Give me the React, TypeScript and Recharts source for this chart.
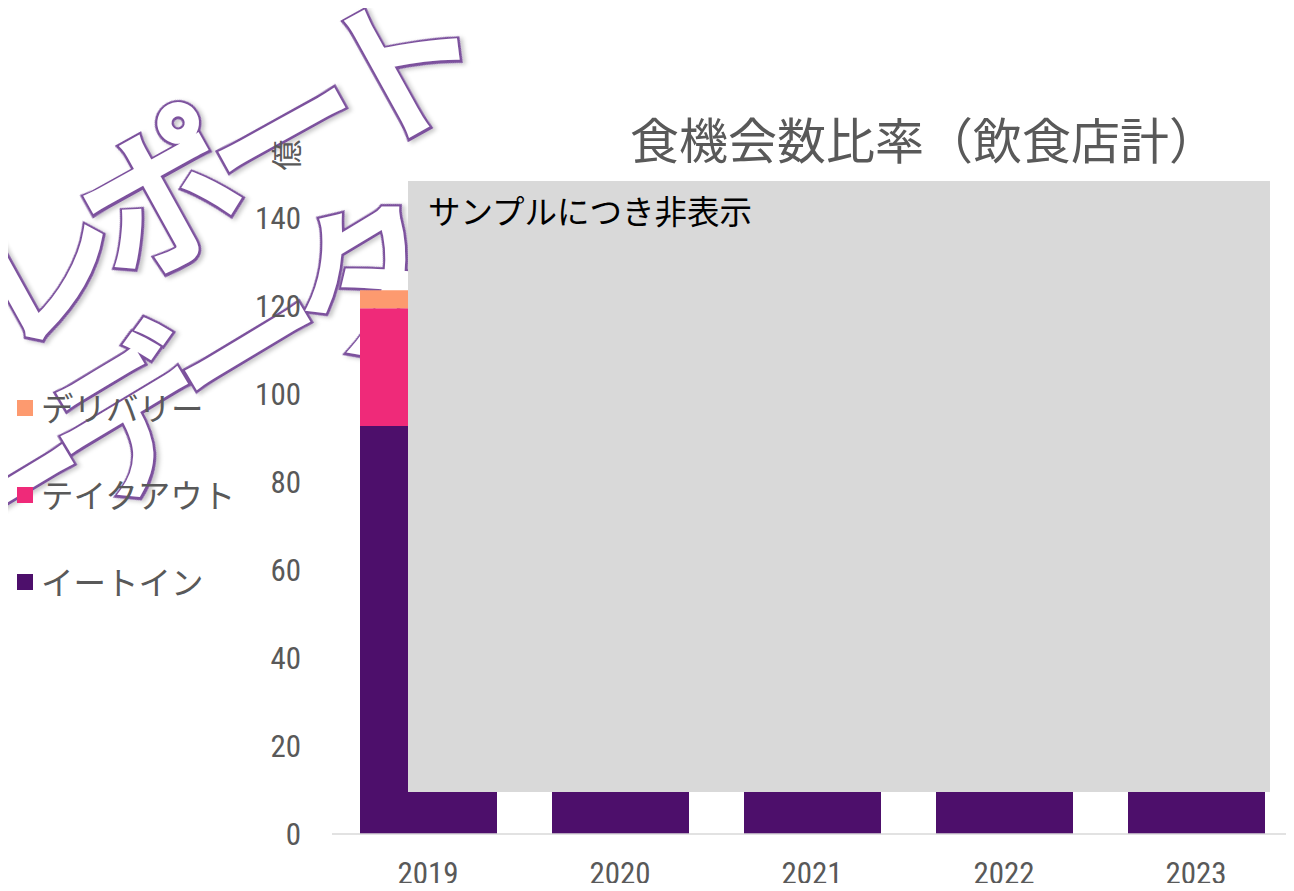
import React from 'react';
import { BarChart, Bar, XAxis, YAxis, Legend } from 'recharts';

const years = ['2019', '2020', '2021', '2022', '2023'];
const eatIn = [92.7, 63, 56, 70, 78];
const takeOut = [26.8, 30, 31, 29, 28];
const delivery = [4.1, 8, 10, 9, 8];
const yTicks = [0, 20, 40, 60, 80, 100, 120, 140];
const seriesNames = ['イートイン', 'テイクアウト', 'デリバリー'];
const seriesColors = ['#4D0F6B', '#EF2A79', '#FD9A6F'];
const titleText = '食機会数比率（飲食店計）';
const unitText = '億';
const hiddenText = 'サンプルにつき非表示';
const watermarkLines = ['レポート', 'ーデータ'];

const data = years.map((y, i) => ({
  year: y,
  eatIn: eatIn[i],
  takeOut: takeOut[i],
  delivery: delivery[i],
}));

const CJK = "'Noto Sans CJK JP', 'Noto Sans', sans-serif";
const NUM = "'Liberation Sans Narrow', 'Roboto Condensed', Roboto, sans-serif";
const GREY = '#595959';

const LegendContent = (props: any) => {
  const items = [...(props.payload || [])].reverse();
  return (
    <div style={{ fontFamily: CJK }}>
      {items.map((it: any) => (
        <div key={it.value} style={{ height: 87, display: 'flex', alignItems: 'center' }}>
          <div style={{ width: 16, height: 16, background: it.color, marginLeft: 17, marginRight: 8 }} />
          <span style={{ fontSize: 32.5, color: GREY, lineHeight: 1 }}>{it.value}</span>
        </div>
      ))}
    </div>
  );
};

const wmBase = {
  textAnchor: 'middle' as const,
  dominantBaseline: 'central' as const,
  fontFamily: CJK,
  fontSize: 158,
  letterSpacing: -20,
  strokeLinejoin: 'miter' as const,
};

const WatermarkLine = ({ x, y, angle, text }: { x: number; y: number; angle: number; text: string }) => (
  <g transform={`translate(${x},${y}) rotate(${angle})`}>
    <text {...wmBase} fill="#7B519D" stroke="#7B519D" strokeWidth={12} filter="url(#wmShadow)">
      {text}
    </text>
    <text {...wmBase} fill="#fff" stroke="#fff" strokeWidth={7}>
      {text}
    </text>
  </g>
);

export default function App() {
  return (
    <div style={{ position: 'relative', width: 1294, height: 891, margin: -8, background: '#fff', overflow: 'hidden' }}>
      {/* watermark */}
      <svg width={1294} height={891} style={{ position: 'absolute', left: 0, top: 0, zIndex: 0 }}>
        <defs>
          <filter id="wmShadow" x="-20%" y="-20%" width="140%" height="140%">
            <feDropShadow dx="2" dy="3" stdDeviation="2" floodColor="#000" floodOpacity="0.22" />
          </filter>
        </defs>
        <WatermarkLine x={209} y={161} angle={-29} text={watermarkLines[0]} />
        <WatermarkLine x={176} y={380} angle={-31} text={watermarkLines[1]} />
      </svg>

      <div style={{ position: 'absolute', left: 0, top: 0, zIndex: 1 }}>
        <BarChart
          width={1294}
          height={891}
          data={data}
          margin={{ top: 218, right: 2, bottom: 7, left: 272 }}
          barSize={137}
        >
          <XAxis
            dataKey="year"
            height={50}
            tickLine={false}
            tickSize={0}
            tickMargin={28}
            axisLine={{ stroke: '#D9D9D9', strokeWidth: 1.5 }}
            tick={{ fill: GREY, fontSize: 31, fontFamily: NUM }}
            interval={0}
          />
          <YAxis
            width={60}
            domain={[0, 140]}
            ticks={yTicks}
            axisLine={false}
            tickLine={false}
            tickSize={0}
            tickMargin={31}
            tick={{ fill: GREY, fontSize: 31, fontFamily: NUM }}
            interval={0}
          />
          <Legend
            layout="vertical"
            align="center"
            verticalAlign="middle"
            content={<LegendContent />}
            wrapperStyle={{ left: 0, top: 364, width: 260, height: 261 }}
          />
          <Bar dataKey="eatIn" stackId="a" name={seriesNames[0]} fill={seriesColors[0]} isAnimationActive={false} />
          <Bar dataKey="takeOut" stackId="a" name={seriesNames[1]} fill={seriesColors[1]} isAnimationActive={false} />
          <Bar dataKey="delivery" stackId="a" name={seriesNames[2]} fill={seriesColors[2]} isAnimationActive={false} />
        </BarChart>
      </div>

      {/* title and unit */}
      <div
        style={{
          position: 'absolute', left: 574, top: 105, width: 700, textAlign: 'center',
          fontFamily: CJK, fontSize: 49, color: GREY, lineHeight: '66px', zIndex: 2, whiteSpace: 'nowrap',
        }}
      >
        {titleText}
      </div>
      <div
        style={{
          position: 'absolute', left: 268, top: 138, width: 34, height: 34, lineHeight: '34px', textAlign: 'center',
          fontFamily: CJK, fontSize: 31, color: GREY, transform: 'rotate(-90deg)', zIndex: 2,
        }}
      >
        {unitText}
      </div>

      {/* hidden-area overlay */}
      <div
        style={{
          position: 'absolute', left: 408, top: 181, width: 862, height: 611, background: '#D9D9D9', zIndex: 3,
        }}
      >
        <div style={{ position: 'absolute', left: 20, top: 9, fontFamily: CJK, fontSize: 32.5, color: '#000', lineHeight: '40px', whiteSpace: 'nowrap' }}>
          {hiddenText}
        </div>
      </div>
    </div>
  );
}
